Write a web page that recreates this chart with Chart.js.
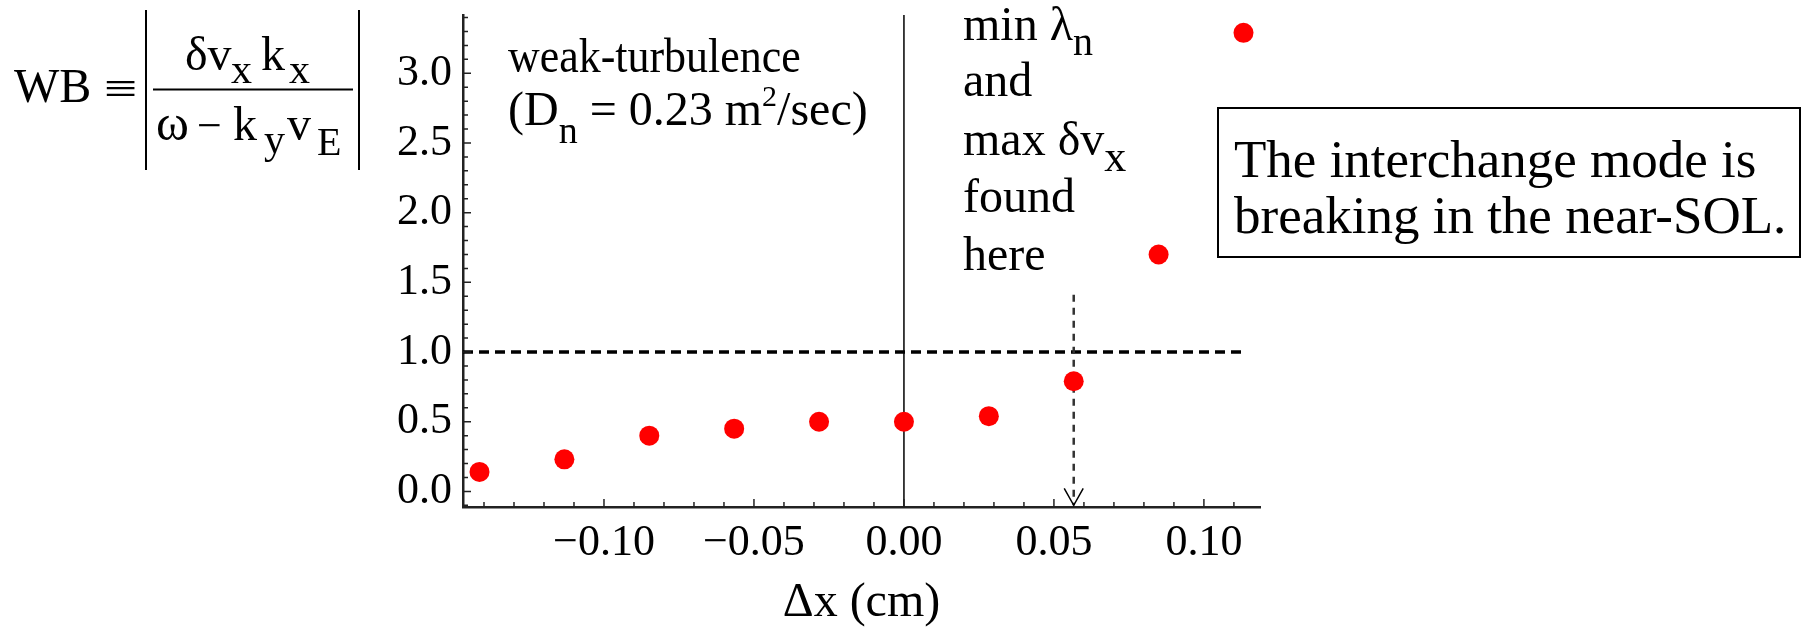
<!DOCTYPE html>
<html>
<head>
<meta charset="utf-8">
<script src="https://cdn.jsdelivr.net/npm/chart.js@4.4.1/dist/chart.umd.min.js"></script>
<style>
html, body { margin: 0; padding: 0; background: #fff; }
</style>
</head>
<body>
<canvas id="myChart" width="1819" height="630"></canvas>
<script>
// WB parameter vs radial position
const dx = [-0.1415, -0.1132, -0.0849, -0.0566, -0.0283, 0, 0.0283, 0.0566, 0.0849, 0.1132];
const wb = [0.14, 0.23, 0.40, 0.45, 0.50, 0.50, 0.54, 0.79, 1.70, 3.29];
const xTicks = [-0.10, -0.05, 0.00, 0.05, 0.10];
const yTicks = [0.0, 0.5, 1.0, 1.5, 2.0, 2.5, 3.0];
const xRange = [-0.147, 0.1187];
const yRange = [-0.112, 3.418];
const threshold = 1.0;
const markX = 0.0566;      // min lambda_n / max dvx location
const markTop = 1.41;
const arrowTip = -0.1;

const serif = "'Liberation Serif', 'Times New Roman', serif";

function fmt(v, d) {
    return (v < -1e-9 ? '\u2212' : '') + Math.abs(v).toFixed(d);
}

// draw a run of text pieces: [text, size, dy]
function seq(ctx, x, y, parts) {
    parts.forEach(p => {
        ctx.font = p[1] + 'px ' + serif;
        ctx.fillText(p[0], x, y + (p[2] || 0));
        x += ctx.measureText(p[0]).width;
    });
}

const decor = {
    id: 'decor',
    afterDatasetsDraw(chart) {
        const ctx = chart.ctx;
        const a = chart.chartArea;
        const x = chart.scales.x, y = chart.scales.y;
        ctx.save();
        ctx.strokeStyle = '#222';
        ctx.lineWidth = 1.5;
        ctx.beginPath();
        for (let i = Math.ceil(xRange[0] * 100); i <= Math.floor(xRange[1] * 100); i++) {
            const px = x.getPixelForValue(i / 100);
            const len = i % 5 === 0 ? 8 : 5;
            ctx.moveTo(px, a.bottom);
            ctx.lineTo(px, a.bottom - len);
        }
        for (let i = Math.ceil(yRange[0] * 10); i <= Math.floor(yRange[1] * 10); i++) {
            const py = y.getPixelForValue(i / 10);
            const len = i % 5 === 0 ? 8 : 5;
            ctx.moveTo(a.left, py);
            ctx.lineTo(a.left + len, py);
        }
        ctx.stroke();

        // open arrow head
        const px = x.getPixelForValue(markX);
        const tip = y.getPixelForValue(arrowTip);
        ctx.strokeStyle = '#000';
        ctx.beginPath();
        ctx.moveTo(px - 9.5, tip - 17);
        ctx.lineTo(px, tip);
        ctx.lineTo(px + 9.5, tip - 17);
        ctx.stroke();
        ctx.restore();
    },
    afterDraw(chart) {
        const ctx = chart.ctx;
        ctx.save();
        ctx.fillStyle = '#000';
        ctx.textBaseline = 'alphabetic';
        ctx.textAlign = 'left';

        // formula
        seq(ctx, 14, 102, [['WB', 48]]);
        ctx.save();
        ctx.translate(104, 103);
        ctx.scale(1.35, 1.0);
        ctx.font = '44px ' + serif;
        ctx.fillText('\u2261', 0, 0);
        ctx.restore();
        seq(ctx, 185, 70, [['\u03b4v', 48]]);
        seq(ctx, 231, 83, [['x', 42]]);
        seq(ctx, 261, 70, [['k', 48]]);
        seq(ctx, 289, 83, [['x', 42]]);
        seq(ctx, 156, 140, [['\u03c9', 50]]);
        seq(ctx, 197, 140, [['\u2212', 44]]);
        seq(ctx, 233, 140, [['k', 48]]);
        seq(ctx, 264, 153, [['y', 42]]);
        seq(ctx, 287, 140, [['v', 48]]);
        seq(ctx, 317, 155, [['E', 40]]);
        ctx.strokeStyle = '#000';
        ctx.lineWidth = 2;
        ctx.beginPath();
        ctx.moveTo(146, 10); ctx.lineTo(146, 170);
        ctx.moveTo(359, 10); ctx.lineTo(359, 170);
        ctx.moveTo(153, 89.5); ctx.lineTo(353, 89.5);
        ctx.stroke();

        // left annotation
        ctx.save();
        ctx.translate(508, 72);
        ctx.scale(0.915, 1);
        seq(ctx, 0, 0, [['weak-turbulence', 48]]);
        ctx.restore();
        seq(ctx, 508, 125, [['(D', 48], ['n', 38, 18], [' = 0.23 m', 48], ['2', 30, -19], ['/sec)', 48]]);

        // right annotation
        seq(ctx, 963, 40, [['min \u03bb', 48], ['n', 40, 15]]);
        seq(ctx, 963, 96, [['and', 48]]);
        seq(ctx, 963, 155, [['max \u03b4v', 48], ['x', 44, 16]]);
        seq(ctx, 963, 212, [['found', 48]]);
        seq(ctx, 963, 270, [['here', 48]]);

        // boxed note
        ctx.lineWidth = 2;
        ctx.strokeRect(1218, 108, 582, 149);
        seq(ctx, 1234, 177, [['The interchange mode is', 53]]);
        seq(ctx, 1234, 233, [['breaking in the near-SOL.', 53]]);
        ctx.restore();
    }
};

const ctx = document.getElementById('myChart');

const myChart = new Chart(ctx, {
    type: 'scatter',
    data: {
        datasets: [{
            data: dx.map((v, i) => ({x: v, y: wb[i]})),
            backgroundColor: 'rgb(255, 0, 0)',
            borderWidth: 0,
            pointRadius: 10,
            order: 0
        }, {
            data: [{x: xRange[0], y: threshold}, {x: dx[dx.length - 1], y: threshold}],
            showLine: true,
            borderColor: '#000',
            borderWidth: 3.5,
            borderDash: [10, 6],
            pointRadius: 0,
            order: 2
        }, {
            data: [{x: 0, y: yRange[0]}, {x: 0, y: yRange[1]}],
            showLine: true,
            borderColor: '#000',
            borderWidth: 1.5,
            pointRadius: 0,
            order: 2
        }, {
            data: [{x: markX, y: markTop}, {x: markX, y: arrowTip}],
            showLine: true,
            borderColor: '#333',
            borderWidth: 2.5,
            borderDash: [7, 6],
            pointRadius: 0,
            order: 1
        }]
    },
    options: {
        responsive: false,
        animation: false,
        layout: { padding: { left: 383, right: 559, top: 15, bottom: 0 } },
        plugins: { legend: { display: false }, tooltip: { enabled: false } },
        scales: {
            x: {
                type: 'linear',
                min: xRange[0],
                max: xRange[1],
                afterBuildTicks: s => { s.ticks = xTicks.map(v => ({value: v})); },
                afterFit: s => { s.height = 123; s.paddingLeft = 0; s.paddingRight = 0; },
                grid: { display: false, drawTicks: false },
                border: { display: true, color: '#222', width: 2.5 },
                ticks: {
                    font: { family: serif, size: 44 },
                    color: '#000',
                    padding: 10,
                    maxRotation: 0,
                    autoSkip: false,
                    callback: v => fmt(v, 2)
                },
                title: {
                    display: true,
                    text: '\u0394x (cm)',
                    color: '#000',
                    font: { family: serif, size: 48, lineHeight: 1.1 },
                    padding: { top: 0, bottom: 0 }
                }
            },
            y: {
                type: 'linear',
                min: yRange[0],
                max: yRange[1],
                afterBuildTicks: s => { s.ticks = yTicks.map(v => ({value: v})); },
                afterFit: s => { s.width = 80; s.paddingTop = 0; s.paddingBottom = 0; },
                grid: { display: false, drawTicks: false },
                border: { display: true, color: '#222', width: 2.5 },
                ticks: {
                    font: { family: serif, size: 44 },
                    color: '#000',
                    padding: 11,
                    callback: v => fmt(v, 1)
                }
            }
        }
    },
    plugins: [decor]
});
</script>
</body>
</html>
